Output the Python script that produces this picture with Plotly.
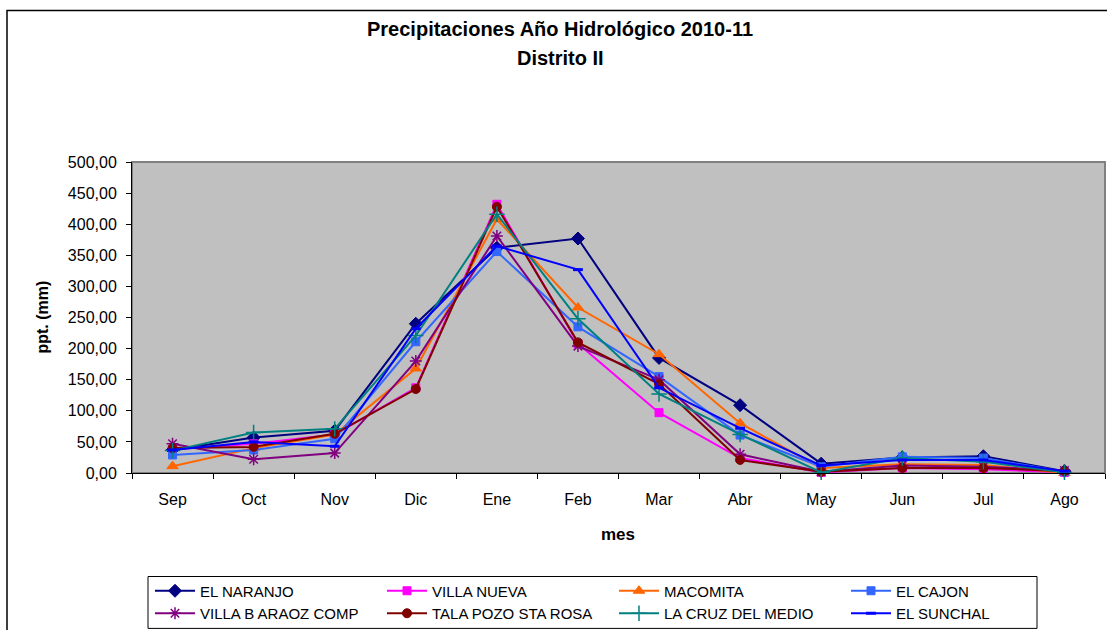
import plotly.graph_objects as go

months = ["Sep", "Oct", "Nov", "Dic", "Ene", "Feb", "Mar", "Abr", "May", "Jun", "Jul", "Ago"]

el_naranjo = [37, 57, 68, 240, 362, 377, 185, 109, 15, 25, 27, 3]
villa_nueva = [38, 47, 62, 137, 432, 208, 97, 24, 1, 8, 6, 1]
macomita = [11, 40, 62, 168, 408, 266, 191, 80, 8, 14, 13, 0]
el_cajon = [29, 37, 55, 211, 356, 235, 155, 61, 10, 26, 24, 2]
villa_b_araoz = [47, 22, 32, 180, 381, 204, 150, 30, 2, 12, 10, 4]
tala_pozo = [40, 42, 63, 135, 428, 210, 143, 21, 2, 8, 8, 3]
la_cruz = [36, 65, 71, 221, 416, 248, 127, 62, 1, 24, 18, 1]
el_sunchal = [37, 50, 43, 232, 365, 327, 137, 72, 12, 21, 21, 3]

y_ticks = [0, 50, 100, 150, 200, 250, 300, 350, 400, 450, 500]

series = [
    ("EL NARANJO", el_naranjo, "#000080", "diamond", 10, 1),
    ("VILLA NUEVA", villa_nueva, "#FF00FF", "square", 8, 1),
    ("MACOMITA", macomita, "#FF6600", "triangle-up", 10, 1),
    ("EL CAJON", el_cajon, "#3366FF", "square", 8, 1),
    ("VILLA B ARAOZ COMP", villa_b_araoz, "#800080", "asterisk-open", 10, 1.5),
    ("TALA POZO STA ROSA", tala_pozo, "#800000", "circle", 9, 1),
    ("LA CRUZ DEL MEDIO", la_cruz, "#008080", "cross-thin-open", 11, 1.5),
    ("EL SUNCHAL", el_sunchal, "#0000FF", "line-ew-open", 7, 3),
]

fig = go.Figure()
for name, vals, color, sym, size, lw in series:
    fig.add_trace(go.Scatter(
        x=months, y=vals, name=name, mode="lines+markers",
        line=dict(color=color, width=2),
        marker=dict(symbol=sym, size=size, color=color, line=dict(color=color, width=lw)),
        cliponaxis=False,
    ))

# pixel geometry helpers
L, R, T, B = 132, 1105, 161.7, 473.3
W, H = R - L, B - T
def px(x):
    return (x - L) / W
def py(y):
    return (B - y) / H

fig.update_layout(
    width=1107, height=630,
    margin=dict(l=L, r=1107 - R, t=T, b=630 - B, autoexpand=False),
    paper_bgcolor="white", plot_bgcolor="#C0C0C0",
    font=dict(family="Liberation Sans, Arial, sans-serif", color="black", size=16),
    separators=",.",
    showlegend=True,
    legend=dict(
        orientation="h", x=px(150), y=py(575), xanchor="left", yanchor="top",
        entrywidth=177, entrywidthmode="pixels", itemwidth=40,
        font=dict(size=15), bgcolor="rgba(0,0,0,0)", borderwidth=0,
        tracegroupgap=0,
    ),
    xaxis=dict(
        type="category", range=[-0.5, len(months) - 0.5], showgrid=False, showline=True,
        linecolor="black", linewidth=1,
        ticks="outside", ticklen=5, tickcolor="black", tickson="boundaries",
        ticklabelstandoff=12, tickfont=dict(size=16), mirror=False, automargin=False,
    ),
    yaxis=dict(
        range=[0, 500], tickvals=y_ticks, tickformat=".2f", showgrid=False,
        showline=True, linecolor="black", linewidth=1, ticks="outside", ticklen=5,
        tickcolor="black", ticklabelstandoff=6, tickfont=dict(size=16), zeroline=False,
        automargin=False,
    ),
    shapes=[
        dict(type="rect", xref="paper", yref="paper", x0=0, x1=1, y0=0, y1=1,
             line=dict(color="#808080", width=2), layer="below"),
        dict(type="rect", xref="paper", yref="paper", x0=px(7), x1=px(1115), y0=py(640), y1=py(10),
             line=dict(color="black", width=1.5)),
        dict(type="rect", xref="paper", yref="paper", x0=px(148), x1=px(1037), y0=py(629), y1=py(577),
             line=dict(color="black", width=1)),
    ],
    annotations=[
        dict(text="<b>Precipitaciones Año Hidrológico 2010-11</b>", xref="paper", yref="paper",
             x=px(560), y=py(28), showarrow=False, xanchor="center", yanchor="middle",
             font=dict(size=20)),
        dict(text="<b>Distrito II</b>", xref="paper", yref="paper",
             x=px(560), y=py(57), showarrow=False, xanchor="center", yanchor="middle",
             font=dict(size=20)),
        dict(text="<b>ppt. (mm)</b>", xref="paper", yref="paper", textangle=-90,
             x=px(42), y=0.5, showarrow=False, xanchor="center", yanchor="middle",
             font=dict(size=16)),
        dict(text="<b>mes</b>", xref="paper", yref="paper",
             x=px(618), y=py(535), showarrow=False, xanchor="center", yanchor="middle",
             font=dict(size=17)),
    ],
)

fig.write_html("out.html", config={"displayModeBar": False},
               post_script="document.body.style.margin='0';document.body.style.overflow='hidden';")
